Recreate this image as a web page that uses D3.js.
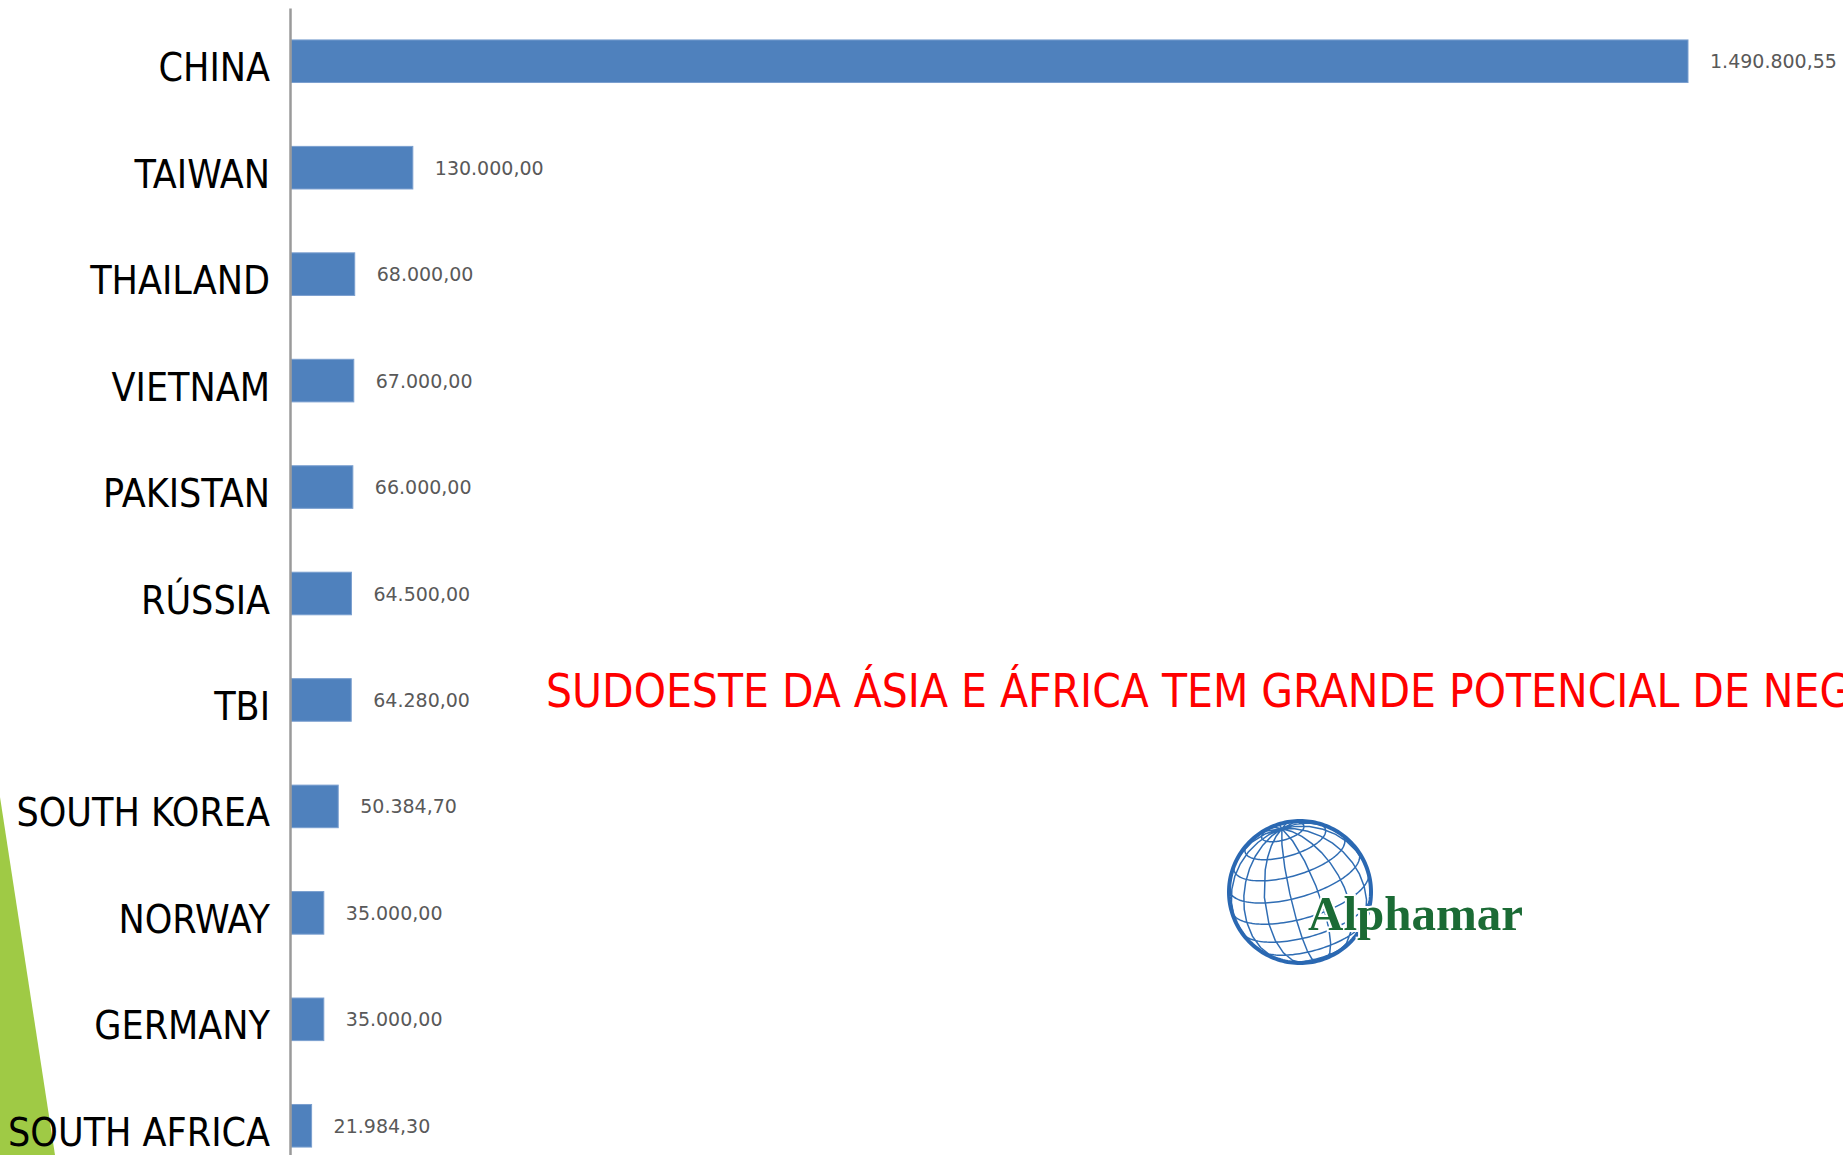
<!DOCTYPE html>
<html lang=pt>
  <head>
    <meta charset="utf-8">
    <title>Chart</title>
    <style>
      html, body { margin: 0; padding: 0; background: #fff; overflow: hidden; }
      svg { display: block; }
      .label { font-family: "DejaVu Sans Condensed", "DejaVu Sans", sans-serif; font-size: 39px; fill: #000; }
      .value { font-family: "DejaVu Sans", sans-serif; font-size: 19px; fill: #595959; }
      .headline { font-family: "DejaVu Sans Condensed", "DejaVu Sans", sans-serif; font-size: 45.6px; fill: #ff0000; }
      .logo { font-family: "Liberation Serif", serif; font-weight: bold; font-size: 49px; fill: #1b6b35; }
    </style>
  </head>
  <body>
    <svg></svg>
    <script src="https://d3js.org/d3.v7.min.js"></script>
    <script>

      // data
      const countries = ["CHINA", "TAIWAN", "THAILAND", "VIETNAM", "PAKISTAN", "RÚSSIA", "TBI", "SOUTH KOREA", "NORWAY", "GERMANY", "SOUTH AFRICA"]
      const values = [1490800.55, 130000, 68000, 67000, 66000, 64500, 64280, 50384.70, 35000, 35000, 21984.30]
      const headline = "SUDOESTE DA ÁSIA E ÁFRICA TEM GRANDE POTENCIAL DE NEGÓCIOS"
      const brand = "Alphamar"

      const width = 1843, height = 1155

      const data = countries.map(function(c, i) { return {country: c, value: values[i]} })

      const svg = d3.select("svg")
          .attr("width", width)
          .attr("height", height)

      // green accent at the bottom left
      svg.append("path")
        .attr("d", "M0,797 L55,1155 L0,1155 Z")
        .attr("fill", "#9fca45")

      // scales
      let y = d3.scaleBand()
        .domain(countries)
        .range([8, 1179])
        .paddingInner(0.6)
        .paddingOuter(0.3)

      let x = d3.scaleLinear()
        .domain([0, d3.max(values)])
        .range([291, 1688])

      const br = d3.formatLocale({decimal: ",", thousands: ".", grouping: [3], currency: ["R$", ""]})
      const fmt = br.format(",.2f")

      // bars
      svg.selectAll(".bar")
          .data(data)
        .enter().append("rect")
          .attr("class", "bar")
          .attr("x", x(0))
          .attr("y", function(d) { return y(d.country) })
          .attr("width", function(d) { return x(d.value) - x(0) })
          .attr("height", y.bandwidth())
          .attr("fill", "#4f81bd")
          .attr("stroke", "#7a9fcf")
          .attr("stroke-width", 1)

      // the vertical axis
      const axis = svg.append("g")
        .attr("transform", "translate(290,0)")
        .call(d3.axisLeft(y).tickSize(0).tickFormat(""))
      axis.select(".domain").attr("stroke", "#9a9a9a").attr("stroke-width", 2.5)

      // country names
      svg.selectAll("text.label")
          .data(data)
        .enter().append("text")
          .attr("class", "label")
          .attr("text-anchor", "end")
          .attr("x", 270)
          .attr("y", function(d) { return y(d.country) + y.bandwidth() / 2 + 20 })
          .text(function(d) { return d.country })

      // values next to the bars
      svg.selectAll("text.value")
          .data(data)
        .enter().append("text")
          .attr("class", "value")
          .attr("x", function(d) { return x(d.value) + 22 })
          .attr("y", function(d) { return y(d.country) + y.bandwidth() / 2 + 7 })
          .text(function(d) { return fmt(d.value) })

      // red headline, runs off the right edge like the original slide
      svg.append("text")
        .attr("class", "headline")
        .attr("x", 546)
        .attr("y", 707)
        .text(headline)

      // logo: globe + name
      const logo = svg.append("g")
      const proj = d3.geoOrthographic()
        .scale(71)
        .translate([1300, 892])
        .rotate([15, -22, 16])
        .clipAngle(90)
      const geo = d3.geoPath(proj)

      logo.append("path")
        .datum(d3.geoGraticule().step([24, 18])())
        .attr("d", geo)
        .attr("fill", "none")
        .attr("stroke", "#2f6db4")
        .attr("stroke-width", 1.5)

      logo.append("path")
        .datum({type: "Sphere"})
        .attr("d", geo)
        .attr("fill", "none")
        .attr("stroke", "#2a68b2")
        .attr("stroke-width", 4)

      logo.append("text")
        .attr("class", "logo")
        .attr("x", 1308)
        .attr("y", 930)
        .attr("stroke", "#fff")
        .attr("stroke-width", 4)
        .attr("paint-order", "stroke")
        .text(brand)
    </script>
  </body>
</html>
